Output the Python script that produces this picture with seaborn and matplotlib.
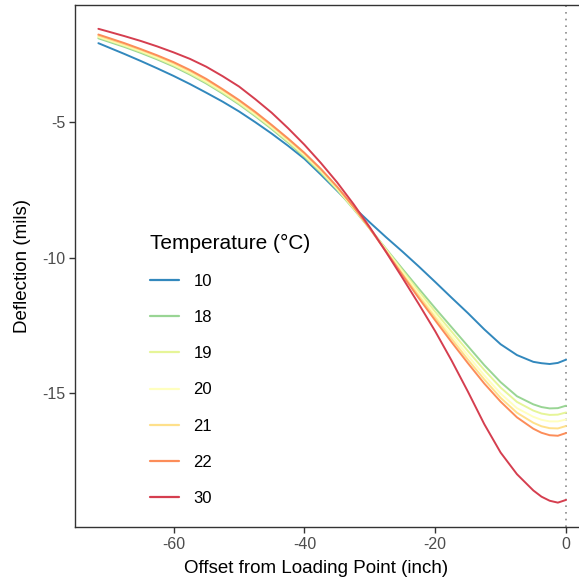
import matplotlib
matplotlib.use("Agg")
import matplotlib.pyplot as plt
import seaborn as sns
import pandas as pd

offset = [-71.5, -70, -67.5, -65, -62.5, -60, -57.5, -55, -52.5, -50,
          -47.5, -45, -42.5, -40, -37.5, -35, -32.5, -30, -27.5, -25,
          -22.5, -20, -17.5, -15, -12.5, -10, -7.5, -5, -3.75, -2.5,
          -1.25, 0]

# deflection (mils) per temperature
t10 = [-2.08, -2.23, -2.48, -2.74, -3.01, -3.29, -3.59, -3.91, -4.24, -4.6,
       -5.0, -5.42, -5.87, -6.35, -6.93, -7.53, -8.13, -8.7, -9.25, -9.78,
       -10.33, -10.9, -11.48, -12.05, -12.65, -13.2, -13.6, -13.85, -13.9, -13.93,
       -13.89, -13.77]
t18 = [-1.9, -2.02, -2.22, -2.44, -2.68, -2.94, -3.24, -3.57, -3.94, -4.34,
       -4.78, -5.25, -5.75, -6.28, -6.86, -7.5, -8.2, -8.93, -9.68, -10.42,
       -11.15, -11.87, -12.57, -13.27, -13.97, -14.6, -15.12, -15.42, -15.52, -15.57,
       -15.56, -15.47]
t19 = [-1.86, -1.98, -2.18, -2.4, -2.64, -2.9, -3.2, -3.53, -3.9, -4.3,
       -4.74, -5.21, -5.71, -6.24, -6.82, -7.47, -8.18, -8.93, -9.7, -10.48,
       -11.25, -12.0, -12.73, -13.45, -14.15, -14.8, -15.33, -15.65, -15.76, -15.81,
       -15.8, -15.72]
t20 = [-1.83, -1.95, -2.15, -2.36, -2.6, -2.86, -3.15, -3.48, -3.85, -4.25,
       -4.7, -5.17, -5.67, -6.2, -6.78, -7.43, -8.15, -8.93, -9.73, -10.54,
       -11.34, -12.12, -12.88, -13.62, -14.35, -15.02, -15.56, -15.88, -15.99, -16.05,
       -16.05, -15.98]
t21 = [-1.8, -1.92, -2.12, -2.33, -2.56, -2.82, -3.11, -3.44, -3.81, -4.21,
       -4.66, -5.13, -5.63, -6.16, -6.75, -7.4, -8.13, -8.93, -9.76, -10.6,
       -11.42, -12.22, -13.0, -13.77, -14.5, -15.18, -15.73, -16.1, -16.23, -16.3,
       -16.31, -16.22]
t22 = [-1.76, -1.88, -2.08, -2.3, -2.53, -2.78, -3.07, -3.4, -3.78, -4.18,
       -4.62, -5.1, -5.6, -6.13, -6.72, -7.38, -8.12, -8.92, -9.78, -10.65,
       -11.5, -12.32, -13.12, -13.9, -14.65, -15.32, -15.9, -16.32, -16.47, -16.56,
       -16.58, -16.48]
t30 = [-1.55, -1.65, -1.82, -2.0, -2.2, -2.42, -2.66, -2.95, -3.3, -3.68,
       -4.15, -4.65, -5.22, -5.83, -6.5, -7.22, -8.02, -8.88, -9.8, -10.75,
       -11.72, -12.72, -13.8, -14.95, -16.15, -17.2, -18.0, -18.6, -18.83, -18.98,
       -19.05, -18.95]

temps = ["10", "18", "19", "20", "21", "22", "30"]
series = [t10, t18, t19, t20, t21, t22, t30]
colors = ["#3288bd", "#99d594", "#e6f598", "#ffffbf", "#fee08b", "#fc8d59", "#d53e4f"]

rows = []
for t, vals in zip(temps, series):
    for x, y in zip(offset, vals):
        rows.append({"offset": x, "deflection": y, "temp": t})
df = pd.DataFrame(rows)

sns.set_style("ticks")
plt.rcParams["font.family"] = ["Liberation Sans", "DejaVu Sans"]
plt.rcParams["axes.unicode_minus"] = False
plt.rcParams["text.color"] = "black"

fig = plt.figure(figsize=(5.79, 5.82), dpi=100)
ax = fig.add_axes([75 / 579, 55 / 582, 514.4 / 579, 522 / 582])

sns.lineplot(data=df, x="offset", y="deflection", hue="temp", hue_order=temps,
             palette=colors, linewidth=1.4, ax=ax)
ax.axvline(0, color="#8c8c8c", linestyle=(0, (1, 3)), linewidth=1.2, zorder=0)

ax.set_xlim(-75.075, 3.575)
ax.set_ylim(-19.95, -0.67)
ax.set_xticks([-60, -40, -20, 0])
ax.set_yticks([-5, -10, -15])
ax.tick_params(axis="both", colors="#333333", labelcolor="#4d4d4d", labelsize=11.5,
               length=4, width=1, pad=3)
for sp in ax.spines.values():
    sp.set_color("#333333")
    sp.set_linewidth(1)

ax.set_xlabel("Offset from Loading Point (inch)", fontsize=13.5, color="black")
ax.set_ylabel("Deflection (mils)", fontsize=13.5, color="black")
ax.xaxis.set_label_coords(0.4695, -0.064)
ax.yaxis.set_label_coords(-0.086, 0.5)

handles, labels = ax.get_legend_handles_labels()
leg = ax.legend(handles, labels, title="Temperature (°C)", loc="upper left",
                bbox_to_anchor=(0.130, 0.578), frameon=False, fontsize=12,
                title_fontsize=15, alignment="left", handlelength=1.7,
                handletextpad=0.9, labelspacing=1.27, borderpad=0)
for line in leg.get_lines():
    line.set_linewidth(1.6)
for txt in leg.get_texts():
    txt.set_color("black")
leg.get_title().set_color("black")

fig.savefig("out.png", dpi=100)
